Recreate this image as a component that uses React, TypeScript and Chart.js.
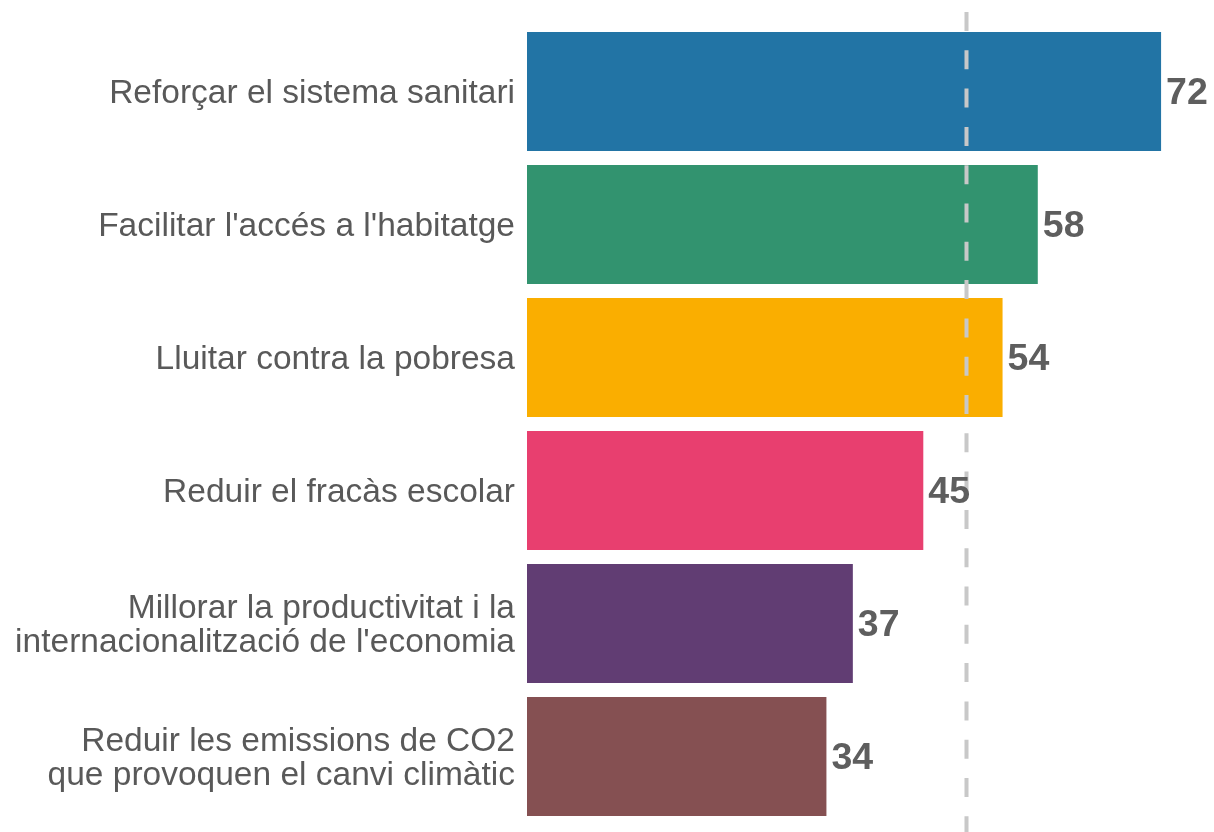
import React, { useEffect, useRef } from "react";
import { Chart, registerables } from "chart.js";

Chart.register(...registerables);

const categories: string[][] = [
  ["Reforçar el sistema sanitari"],
  ["Facilitar l'accés a l'habitatge"],
  ["Lluitar contra la pobresa"],
  ["Reduir el fracàs escolar"],
  ["Millorar la productivitat i la", "internacionalització de l'economia"],
  ["Reduir les emissions de CO2", "que provoquen el canvi climàtic"],
];
const values: number[] = [72, 58, 54, 45, 37, 34];
const barColors: string[] = ["#2274A5", "#32936F", "#FAAE00", "#E83F6F", "#613D73", "#855052"];
const referenceValue = 50;

const FONT = "'Liberation Sans', Arial, 'DejaVu Sans', sans-serif";

const refLinePlugin = {
  id: "refLine",
  afterDatasetsDraw(chart: any) {
    const { ctx, scales } = chart;
    const x = Math.round(scales.x.getPixelForValue(referenceValue)) - 0.5;
    ctx.save();
    ctx.strokeStyle = "#C8C8C8";
    ctx.lineWidth = 4;
    ctx.setLineDash([19, 19.3]);
    ctx.beginPath();
    ctx.moveTo(x, 12);
    ctx.lineTo(x, chart.height);
    ctx.stroke();
    ctx.restore();
  },
};

const labelsPlugin = {
  id: "labelsAndValues",
  afterDraw(chart: any) {
    const { ctx, chartArea } = chart;
    const yScale = chart.scales.y;
    const meta = chart.getDatasetMeta(0);
    ctx.save();
    ctx.font = `33.5px ${FONT}`;
    ctx.fillStyle = "#595959";
    ctx.textAlign = "right";
    ctx.textBaseline = "middle";
    const lineH = 33.5;
    categories.forEach((lines, i) => {
      const y = yScale.getPixelForTick(i);
      const x = chartArea.left - 12;
      const startY = y - ((lines.length - 1) * lineH) / 2;
      lines.forEach((line, j) => {
        ctx.fillText(line, x, startY + j * lineH + 2.5);
      });
    });
    ctx.restore();
    ctx.save();
    ctx.font = `bold 37.5px ${FONT}`;
    ctx.fillStyle = "#5E5E5E";
    ctx.textAlign = "left";
    ctx.textBaseline = "middle";
    meta.data.forEach((bar: any, i: number) => {
      ctx.fillText(String(values[i]), bar.x + 5, bar.y + 2.5);
    });
    ctx.restore();
  },
};

export default function App() {
  const canvasRef = useRef<HTMLCanvasElement | null>(null);

  useEffect(() => {
    document.body.style.margin = "0";
    if (!canvasRef.current) return;
    const chart = new Chart(canvasRef.current, {
      type: "bar",
      data: {
        labels: categories.map((c) => c.join(" ")),
        datasets: [
          {
            data: values,
            backgroundColor: barColors,
            borderWidth: 0,
            categoryPercentage: 1,
            barPercentage: 119 / 133,
          },
        ],
      },
      options: {
        indexAxis: "y",
        animation: false,
        responsive: false,
        maintainAspectRatio: false,
        layout: { padding: { top: 25, bottom: 9, left: 0, right: 26.5 } },
        plugins: {
          legend: { display: false },
          tooltip: { enabled: false },
        },
        scales: {
          x: {
            display: false,
            min: 0,
            max: 75,
          },
          y: {
            grid: { display: false, drawTicks: false },
            border: { display: false },
            ticks: { display: false },
            afterFit(scale: any) {
              scale.width = 527;
            },
          },
        },
      },
      plugins: [refLinePlugin, labelsPlugin],
    });
    return () => chart.destroy();
  }, []);

  return (
    <div style={{ width: 1214, height: 832 }}>
      <canvas ref={canvasRef} width={1214} height={832} style={{ display: "block" }} />
    </div>
  );
}
